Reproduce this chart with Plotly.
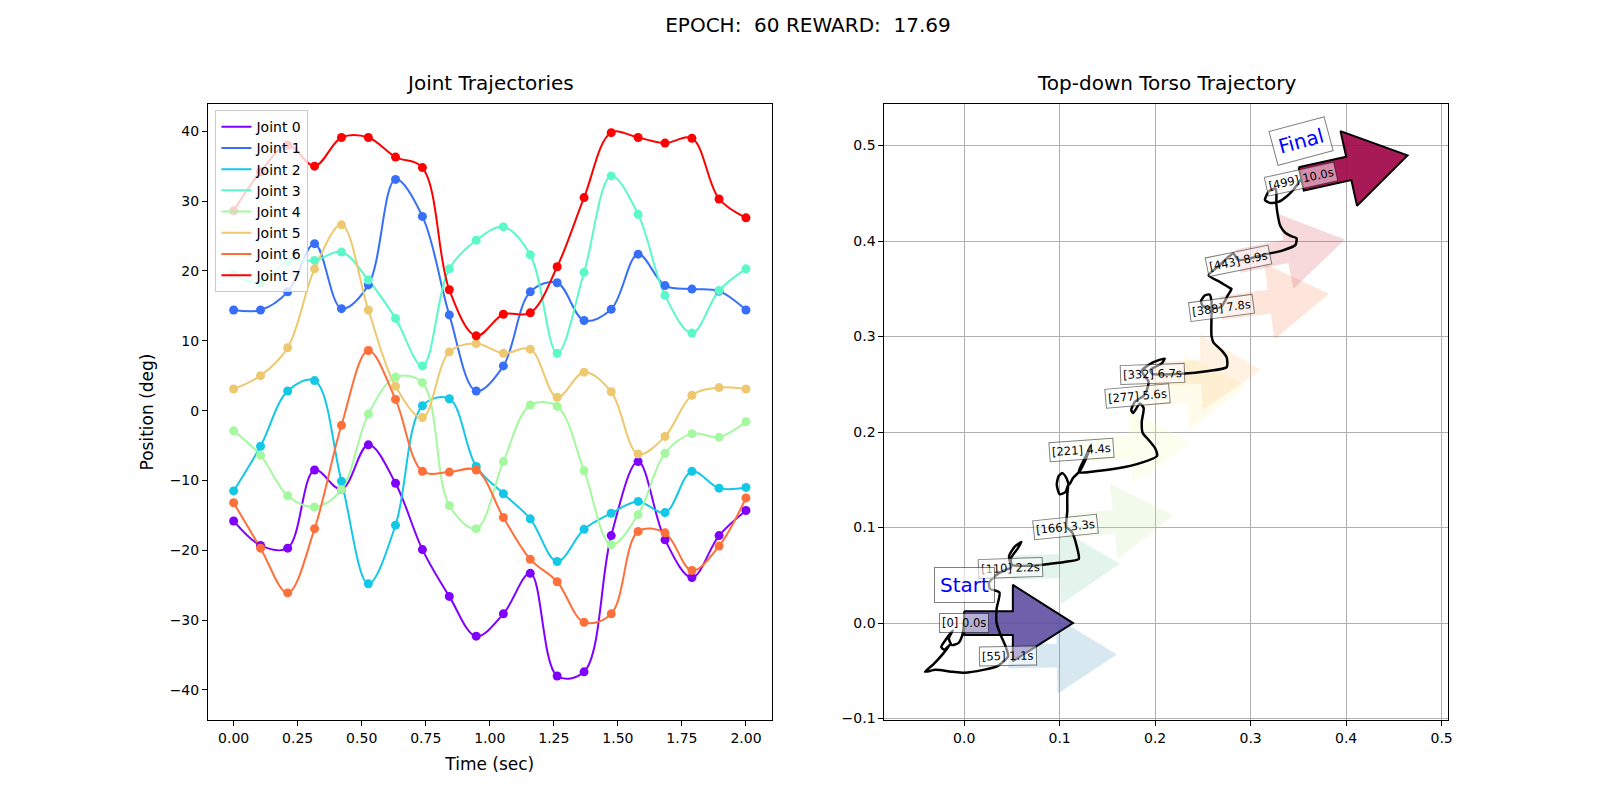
import numpy as np
import plotly.graph_objects as go
import plotly.colors as pc

# ---- left panel: joint trajectories (deg) sampled over 2 s ----
time_s = [0.0, 0.105, 0.211, 0.316, 0.421, 0.526, 0.632, 0.737, 0.842, 0.947,
          1.053, 1.158, 1.263, 1.368, 1.474, 1.579, 1.684, 1.789, 1.895, 2.0]

joint_0 = [-15.8, -19.3, -19.7, -8.5, -11.3, -4.9, -10.4, -19.9, -26.6, -32.3,
           -29.1, -23.3, -38.0, -37.4, -17.9, -7.3, -18.5, -23.9, -17.9, -14.3]
joint_1 = [14.4, 14.4, 17.0, 23.9, 14.6, 18.0, 33.1, 27.8, 13.7, 2.8,
           6.4, 17.0, 18.3, 12.9, 14.5, 22.4, 17.9, 17.4, 17.1, 14.4]
joint_2 = [-11.5, -5.1, 2.8, 4.3, -10.1, -24.8, -16.4, 0.7, 1.7, -8.0,
           -11.9, -15.5, -21.6, -17.0, -14.7, -13.0, -14.6, -8.7, -11.1, -11.0]
joint_3 = [19.5, 18.3, 21.4, 21.5, 22.7, 18.7, 13.2, 6.4, 20.3, 24.4,
           26.3, 22.3, 8.2, 19.8, 33.6, 28.1, 16.5, 11.1, 17.2, 20.3]
joint_4 = [-2.9, -6.4, -12.2, -13.8, -11.3, -0.5, 4.8, 4.0, -13.6, -16.9,
           -7.3, 0.8, 0.6, -8.6, -19.2, -14.9, -6.1, -3.3, -3.8, -1.6]
joint_5 = [3.1, 5.0, 9.0, 20.3, 26.6, 14.4, 3.5, -1.0, 8.4, 9.6,
           8.2, 8.8, 1.9, 5.5, 2.7, -6.2, -3.7, 2.2, 3.3, 3.1]
joint_6 = [-13.2, -19.7, -26.1, -16.9, -2.1, 8.6, 1.6, -8.7, -8.8, -8.5,
           -15.3, -21.3, -24.5, -30.3, -29.1, -17.3, -17.5, -22.9, -19.4, -12.5]
joint_7 = [28.6, 34.2, 38.0, 35.0, 39.1, 39.1, 36.3, 34.8, 17.3, 10.7,
           13.8, 14.0, 20.6, 30.5, 39.8, 39.1, 38.3, 39.0, 30.3, 27.6]

joints = [joint_0, joint_1, joint_2, joint_3, joint_4, joint_5, joint_6, joint_7]
joint_names = ["Joint %d" % i for i in range(8)]
joint_colors = ['#8000ff', '#376ff9', '#12c8e6', '#5bf9c7',
                '#a4f99f', '#edc86f', '#ff6f39', '#ff0000']

# ---- right panel: top-down torso path (m) ----
torso_x = [0.000, -0.002, -0.006, -0.013, -0.016, -0.012, -0.019, -0.024, -0.021, -0.015,
           -0.022, -0.032, -0.041, -0.030, -0.012, 0.000, 0.020, 0.035, 0.046, 0.044,
           0.038, 0.034, 0.034, 0.037, 0.027, 0.026, 0.030, 0.036, 0.044, 0.049,
           0.047, 0.053, 0.060, 0.056, 0.049, 0.050, 0.070, 0.090, 0.105, 0.120,
           0.118, 0.113, 0.107, 0.108, 0.108, 0.109, 0.106, 0.100, 0.097, 0.099,
           0.103, 0.107, 0.110, 0.114, 0.121, 0.128, 0.133, 0.127, 0.120, 0.137,
           0.161, 0.186, 0.202, 0.200, 0.193, 0.187, 0.186, 0.188, 0.184, 0.177,
           0.175, 0.179, 0.188, 0.191, 0.193, 0.186, 0.196, 0.210, 0.207, 0.195,
           0.197, 0.228, 0.256, 0.275, 0.275, 0.270, 0.261, 0.259, 0.259, 0.259,
           0.257, 0.252, 0.248, 0.250, 0.258, 0.269, 0.276, 0.280, 0.278, 0.268,
           0.256, 0.263, 0.272, 0.282, 0.287, 0.300, 0.315, 0.333, 0.347, 0.348,
           0.343, 0.336, 0.331, 0.329, 0.327, 0.327, 0.326, 0.319, 0.315, 0.320,
           0.329, 0.338, 0.345, 0.353]
torso_y = [0.000, -0.013, -0.021, -0.023, -0.016, -0.008, -0.017, -0.025, -0.028, -0.023,
           -0.032, -0.043, -0.051, -0.049, -0.051, -0.052, -0.049, -0.045, -0.035, -0.026,
           -0.012, 0.000, 0.015, 0.032, 0.036, 0.042, 0.047, 0.052, 0.056, 0.058,
           0.070, 0.080, 0.085, 0.078, 0.068, 0.061, 0.060, 0.062, 0.064, 0.067,
           0.080, 0.095, 0.101, 0.117, 0.134, 0.145, 0.137, 0.135, 0.145, 0.154,
           0.157, 0.152, 0.145, 0.152, 0.159, 0.173, 0.187, 0.174, 0.158, 0.159,
           0.162, 0.168, 0.175, 0.183, 0.192, 0.199, 0.211, 0.225, 0.230, 0.220,
           0.223, 0.232, 0.238, 0.243, 0.253, 0.264, 0.272, 0.277, 0.272, 0.265,
           0.261, 0.261, 0.264, 0.268, 0.278, 0.285, 0.294, 0.301, 0.320, 0.337,
           0.344, 0.343, 0.337, 0.332, 0.330, 0.331, 0.343, 0.350, 0.351, 0.357,
           0.364, 0.371, 0.379, 0.387, 0.380, 0.382, 0.386, 0.390, 0.396, 0.403,
           0.405, 0.409, 0.416, 0.424, 0.438, 0.450, 0.455, 0.452, 0.443, 0.440,
           0.441, 0.447, 0.454, 0.465]

# sampled steps along the path, with heading (deg)
sample_step = [0, 55, 110, 166, 221, 277, 332, 388, 443, 499]
sample_time = [0.0, 1.1, 2.2, 3.3, 4.4, 5.6, 6.7, 7.8, 8.9, 10.0]
sample_x = [0.000, 0.046, 0.049, 0.106, 0.123, 0.182, 0.197, 0.269, 0.287, 0.353]
sample_y = [0.000, -0.035, 0.058, 0.101, 0.181, 0.238, 0.261, 0.330, 0.379, 0.465]
sample_heading = [0, 1, 2, 6, 4, 5, 2, 7.5, 11.5, 12.5]

fig = go.Figure()

# joint lines (legend) + sample markers
for name, vals, col in zip(joint_names, joints, joint_colors):
    fig.add_trace(go.Scatter(x=time_s, y=vals, mode='lines', name=name,
                             line=dict(color=col, width=2, shape='spline', smoothing=1.0),
                             xaxis='x', yaxis='y'))
for name, vals, col in zip(joint_names, joints, joint_colors):
    fig.add_trace(go.Scatter(x=time_s, y=vals, mode='markers', showlegend=False,
                             marker=dict(color=col, size=9),
                             xaxis='x', yaxis='y'))


def arrow_poly(x0, y0, ang):
    a = np.deg2rad(ang)
    L, hl, hw, w = 0.114, 0.063, 0.08, 0.025
    u = np.array([0, L - hl, L - hl, L, L - hl, L - hl, 0, 0])
    v = np.array([w / 2, w / 2, hw / 2, 0, -hw / 2, -w / 2, -w / 2, w / 2])
    return x0 + u * np.cos(a) - v * np.sin(a), y0 + u * np.sin(a) + v * np.cos(a)


scale = pc.make_colorscale(list(reversed(pc.diverging.Spectral)))
arrow_cols = pc.sample_colorscale(scale, [i / 9 for i in range(10)])

n = len(sample_step)
order = list(range(1, n - 1)) + [0, n - 1]
for i in order:
    r, g, b = pc.unlabel_rgb(arrow_cols[i])
    ends = i in (0, n - 1)
    alpha = 0.9 if ends else 0.2
    ax_, ay_ = arrow_poly(sample_x[i], sample_y[i], sample_heading[i])
    fig.add_trace(go.Scatter(x=ax_, y=ay_, mode='lines', fill='toself',
                             fillcolor='rgba(%d,%d,%d,%.2f)' % (r, g, b, alpha),
                             line=dict(color='black' if ends else 'rgba(0,0,0,0)',
                                       width=2 if ends else 0),
                             showlegend=False, hoverinfo='skip',
                             xaxis='x2', yaxis='y2'))

fig.add_trace(go.Scatter(x=torso_x, y=torso_y, mode='lines', showlegend=False,
                         line=dict(color='black', width=2.5, shape='spline', smoothing=0.6),
                         xaxis='x2', yaxis='y2'))

# step labels
for i in range(n):
    fig.add_annotation(x=sample_x[i], y=sample_y[i], xref='x2', yref='y2',
                       text="[%d] %.1fs" % (sample_step[i], sample_time[i]),
                       showarrow=False, textangle=-sample_heading[i],
                       font=dict(size=11.5, color='black'),
                       bgcolor='rgba(255,255,255,0.5)', bordercolor='rgba(0,0,0,0.5)',
                       borderwidth=1, borderpad=2)

for i, txt in ((0, 'Start'), (n - 1, 'Final')):
    fig.add_annotation(x=sample_x[i], y=sample_y[i] + 0.04, xref='x2', yref='y2',
                       text=txt, showarrow=False, textangle=-(sample_heading[i] * 1.2),
                       font=dict(size=20, color='blue'),
                       bgcolor='rgba(255,255,255,0.6)', bordercolor='rgba(0,0,0,0.5)',
                       borderwidth=1, borderpad=5)

# subplot titles
fig.add_annotation(x=0.2273, y=1, xref='paper', yref='paper', xanchor='center',
                   yanchor='bottom', yshift=7,
                   text='Joint Trajectories', showarrow=False, font=dict(size=20))
fig.add_annotation(x=0.7727, y=1, xref='paper', yref='paper', xanchor='center',
                   yanchor='bottom', yshift=7,
                   text='Top-down Torso Trajectory', showarrow=False, font=dict(size=20))

axis_style = dict(showline=True, linecolor='black', linewidth=1, mirror=True,
                  ticks='outside', ticklen=5, tickwidth=1, tickcolor='black',
                  tickfont=dict(size=14, color='black'), zeroline=False)

fig.update_layout(
    width=1600, height=800,
    template='simple_white',
    plot_bgcolor='white', paper_bgcolor='white',
    font=dict(family='DejaVu Sans', color='black'),
    margin=dict(l=200, r=160, t=96, b=88),
    title=dict(text='EPOCH:  60 REWARD:  17.69', x=0.5, xanchor='center',
               y=0.979, yanchor='middle', font=dict(size=20)),
    showlegend=True,
    legend=dict(x=0.006, y=0.99, xanchor='left', yanchor='top',
                bgcolor='rgba(255,255,255,0.8)', bordercolor='#cccccc', borderwidth=1,
                font=dict(size=14), tracegroupgap=0),
    xaxis=dict(domain=[0, 0.4545], range=[-0.1, 2.1], tickvals=np.arange(0, 2.01, 0.25),
               tickformat='.2f', showgrid=False, anchor='y',
               title=dict(text='Time (sec)', font=dict(size=17), standoff=13), **axis_style),
    yaxis=dict(range=[-44.3, 43.9], tickvals=list(range(-40, 41, 10)), showgrid=False,
               anchor='x', title=dict(text='Position (deg)', font=dict(size=17), standoff=11),
               **axis_style),
    xaxis2=dict(domain=[0.5455, 1], range=[-0.0835, 0.5067],
                tickvals=[0, 0.1, 0.2, 0.3, 0.4, 0.5], tickformat='.1f', anchor='y2',
                showgrid=True, gridcolor='#b0b0b0', gridwidth=1, **axis_style),
    yaxis2=dict(range=[-0.1015, 0.5435], tickvals=[-0.1, 0, 0.1, 0.2, 0.3, 0.4, 0.5],
                tickformat='.1f', anchor='x2',
                showgrid=True, gridcolor='#b0b0b0', gridwidth=1, **axis_style),
)

fig.write_html("out.html")
